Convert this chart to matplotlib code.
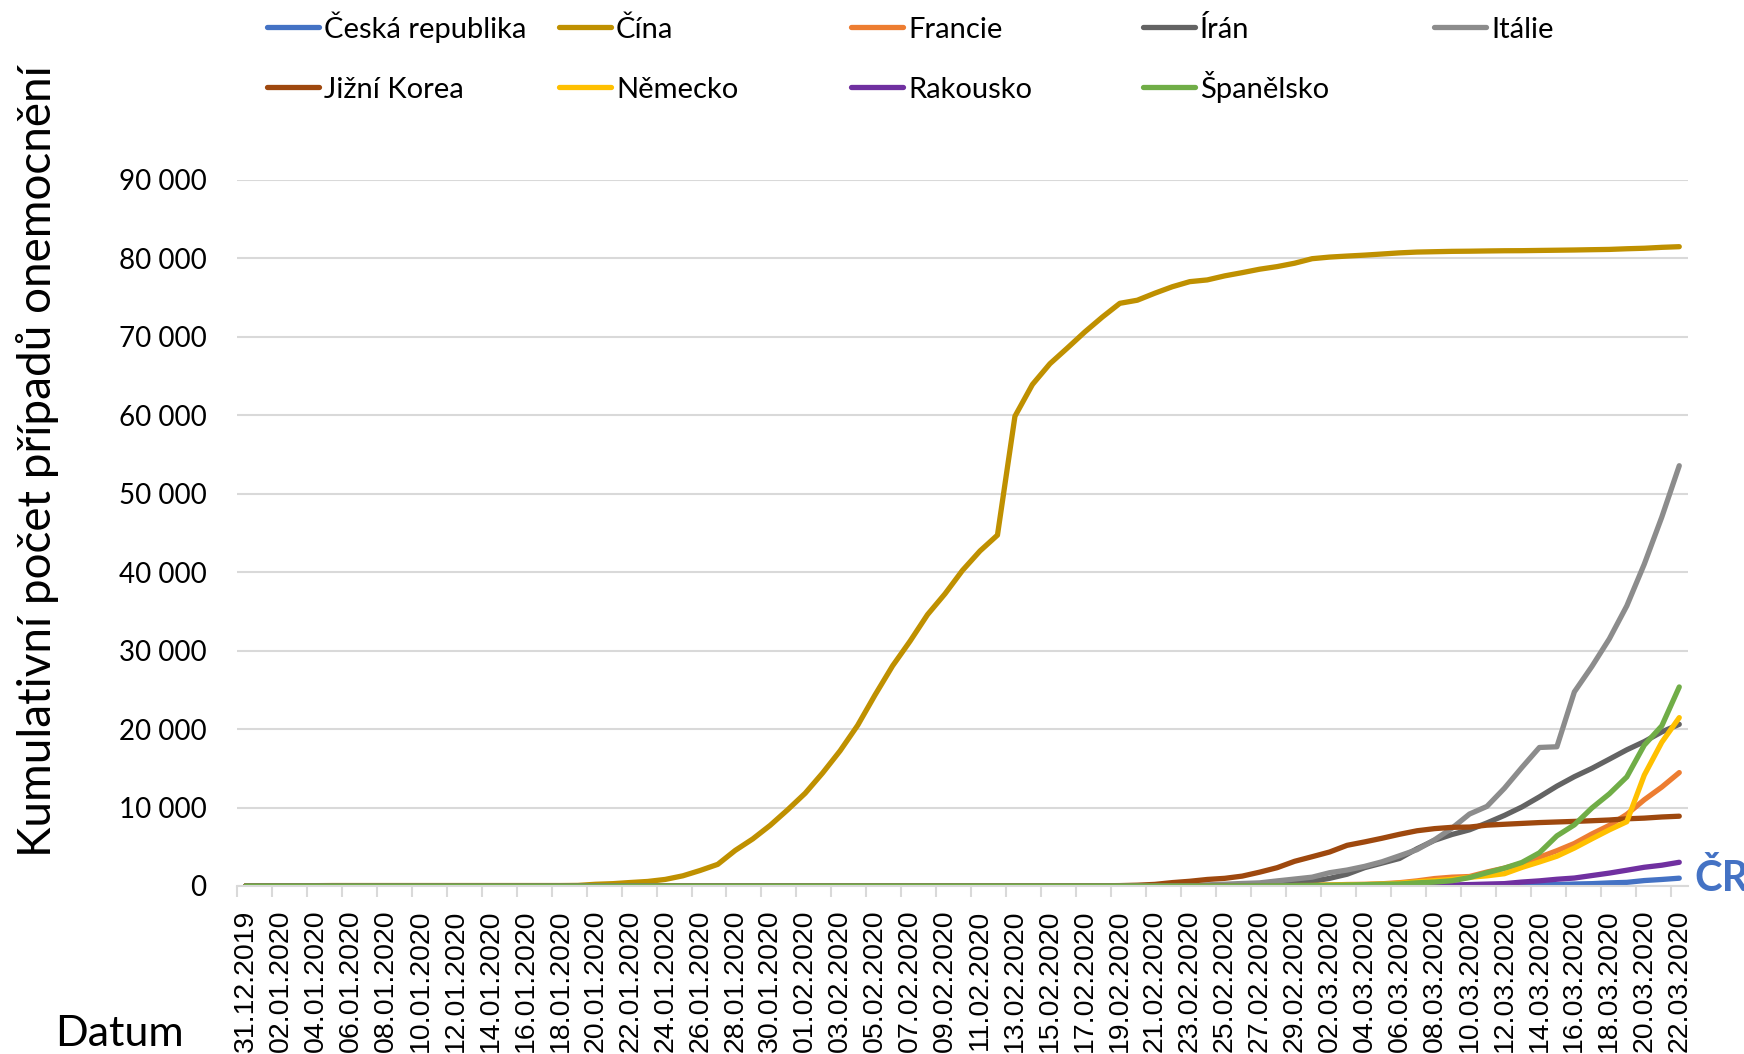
import pandas as pd
import numpy as np
import matplotlib
matplotlib.use('Agg')
import matplotlib.pyplot as plt
from matplotlib.lines import Line2D

plt.rcParams['font.family'] = ['Lato', 'DejaVu Sans']

# daily categories 31.12.2019 - 22.03.2020
dates = pd.date_range('2019-12-31', '2020-03-22', freq='D')
date_labels = [d.strftime('%d.%m.%Y') for d in dates]

countries = ['Česká republika', 'Čína', 'Francie', 'Írán', 'Itálie',
             'Jižní Korea', 'Německo', 'Rakousko', 'Španělsko']
colors = ['#4472C4', '#BF9000', '#ED7D31', '#636363', '#8C8C8C',
          '#9E480E', '#FFC000', '#7030A0', '#70AD47']

# cumulative cases, one value per day
cesko = [0] * 62 + [3, 3, 5, 8, 12, 19, 26, 32, 40, 63, 94, 116, 141, 189,
                    253, 298, 396, 464, 694, 833, 995]
cina = ([27] * 3 + [44] * 2 + [59] * 14 +
        [77, 218, 297, 446, 580, 840, 1297, 1985, 2761, 4537,
         5997, 7736, 9720, 11821, 14411, 17238, 20471, 24363, 28060, 31211,
         34598, 37251, 40235, 42708, 44730, 59882, 63932, 66576, 68584, 70635,
         72528, 74279, 74675, 75569, 76392, 77042, 77262, 77780, 78191, 78630,
         78961, 79394, 79968, 80174, 80304, 80422, 80565, 80711, 80813, 80859,
         80904, 80924, 80955, 80981, 80991, 81021, 81048, 81077, 81116, 81151,
         81235, 81300, 81416, 81498])
francie = ([0] * 25 + [3] * 4 + [4, 5, 5] + [6] * 8 + [11] * 4 + [12] * 14 +
           [18, 38, 57, 100, 130, 191, 212, 285, 423, 653, 949, 1126, 1209,
            1784, 2281, 2876, 3661, 4499, 5423, 6633, 7730, 9134, 10995,
            12612, 14459])
iran = [0] * 51 + [2, 5, 18, 28, 43, 61, 95, 139, 245, 388,
                   593, 978, 1501, 2336, 2922, 3513, 4747, 5823, 6566, 7161,
                   8042, 9000, 10075, 11364, 12729, 13938, 14991, 16169, 17361,
                   18407, 19644, 20610]
italie = ([0] * 31 + [2] * 7 + [3] * 15 +
          [20, 79, 152, 229, 322, 400, 650, 888, 1128, 1694,
           2036, 2502, 3089, 3858, 4636, 5883, 7375, 9172, 10149, 12462,
           15113, 17660, 17750, 24747, 27980, 31506, 35713, 41035, 47021,
           53578])
korea = ([0] * 20 + [1] * 4 + [2] * 3 + [4] * 4 +
         [11, 12, 15, 15, 16, 19, 23, 24, 24, 25, 27] + [28] * 6 +
         [30, 31, 51, 104, 204, 433, 602, 833, 977, 1261, 1766, 2337, 3150,
          3736, 4335, 5186, 5621, 6088, 6593, 7041, 7314, 7478, 7513, 7755,
          7869, 7979, 8086, 8162, 8236, 8320, 8413, 8565, 8652, 8799, 8897])
nemecko = ([0] * 28 + [4] * 3 + [5, 7, 8, 10] + [12] * 3 + [13] + [14] * 3 +
           [16] * 16 +
           [18, 26, 53, 66, 117, 150, 188, 240, 349, 534, 684, 847, 1112,
            1296, 1567, 2369, 3062, 3795, 4838, 6012, 7156, 8198, 14138,
            18323, 21463])
rakousko = [0] * 57 + [2, 2, 3, 9, 14, 18, 21, 29, 41, 55, 79, 104, 131, 182,
                       246, 302, 504, 655, 860, 1016, 1332, 1646, 2013, 2388,
                       2649, 3024]
spanelsko = ([0] * 32 + [1] * 9 + [2] * 16 +
             [6, 13, 15, 32, 45, 84, 120, 165, 222, 259, 400, 500, 673, 1073,
              1695, 2277, 3004, 4231, 6391, 7798, 9942, 11748, 13910, 17963,
              20410, 25374])

series = [cesko, cina, francie, iran, italie, korea, nemecko, rakousko, spanelsko]

W, H = 1744, 1054
fig = plt.figure(figsize=(W / 100, H / 100), dpi=100)
ax = fig.add_axes([237 / W, 1 - 886 / H, (1688 - 237) / W, (886 - 180) / H])

x = np.arange(len(dates))
for name, vals, col in zip(countries, series, colors):
    ax.plot(x, vals, color=col, lw=3.8, label=name,
            solid_capstyle='round', solid_joinstyle='round')

ax.set_xlim(-0.5, len(dates) - 0.5)
ax.set_ylim(0, 90000)

yt = np.arange(0, 90001, 10000)
ax.set_yticks(yt)
ax.set_yticklabels([f'{v:,}'.replace(',', ' ') for v in yt])
ax.yaxis.grid(True, color='#D9D9D9', lw=1.5)
ax.set_axisbelow(True)
ax.tick_params(axis='y', length=0, pad=22, labelsize=20)

ax.set_xticks(x[::2])
ax.set_xticklabels(date_labels[::2], rotation=90, family='Liberation Sans')
ax.set_xticks(np.arange(-0.5, len(dates), 2), minor=True)
ax.tick_params(axis='x', which='major', length=0, pad=17, labelsize=20.5)
ax.tick_params(axis='x', which='minor', length=8, width=1.5, color='#D9D9D9')

for s in ['left', 'right', 'top']:
    ax.spines[s].set_visible(False)
ax.spines['bottom'].set_color('#D9D9D9')
ax.spines['bottom'].set_linewidth(1.5)

fig.text(37 / W, 1 - 461 / H, 'Kumulativní počet případů onemocnění',
         rotation=90, ha='center', va='center', fontsize=33)
fig.text(119 / W, 1 - 1034 / H, 'Datum', ha='center', va='center', fontsize=31)
ax.text(82.85, 1000, 'ČR', color='#4472C4', fontweight='bold', fontsize=30,
        ha='left', va='center', clip_on=False)

# legend drawn by hand: 5 equal columns, 2 rows, aligned baselines
col_x = [267, 559, 851, 1143, 1434]
row_y = [27, 87]
for i, (name, col) in enumerate(zip(countries, colors)):
    x0 = col_x[i % 5]
    y0 = row_y[i // 5]
    fig.add_artist(Line2D([x0 / W, (x0 + 52) / W], [1 - y0 / H] * 2,
                          transform=fig.transFigure, color=col, lw=3.8,
                          solid_capstyle='round'))
    fig.text((x0 + 57) / W, 1 - (y0 + 11) / H, name, fontsize=21,
             ha='left', va='baseline')

fig.savefig('out.png', dpi=100)
